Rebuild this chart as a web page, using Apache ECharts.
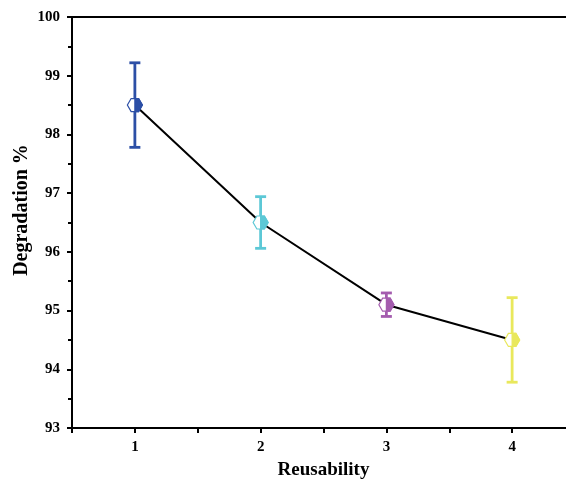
<!DOCTYPE html>
<html><head><meta charset="utf-8">
<script src="https://cdn.jsdelivr.net/npm/echarts@6/dist/echarts.min.js"></script>
<style>html,body{margin:0;padding:0;background:#fff}#c{width:566px;height:480px}</style>
</head><body><div id="c"></div>
<script>
var reuse = [1, 2, 3, 4];
var degradation = [98.5, 96.5, 95.1, 94.5];
var errors = [0.72, 0.44, 0.2, 0.72];
var pointColors = ['#2c4fa6', '#5cc8d6', '#a45cae', '#e9e85c'];
var yTicks = [93, 94, 95, 96, 97, 98, 99, 100];
var xTitle = 'Reusability';
var yTitle = 'Degradation %';

var font = '"Liberation Serif", "Times New Roman", serif';
var chart = echarts.init(document.getElementById('c'), null, {renderer: 'canvas'});
var pts = reuse.map(function (x, i) { return [x, degradation[i], errors[i], i]; });

chart.setOption({
  animation: false,
  grid: {left: 72, top: 17, height: 411, width: 503, containLabel: false, outerBoundsMode: 'none'},
  graphic: [{
    type: 'text', x: 22, y: 210, rotation: Math.PI / 2,
    style: {text: yTitle, fontFamily: font, fontWeight: 'bold', fontSize: 20, fill: '#000',
      textAlign: 'center', textVerticalAlign: 'middle'}
  }],
  xAxis: [{
    type: 'value', min: 0.5, max: 4.5, interval: 0.5,
    name: xTitle, nameLocation: 'middle', nameGap: 33, nameMoveOverlap: false,
    nameTextStyle: {fontFamily: font, fontWeight: 'bold', fontSize: 19, color: '#000'},
    axisLine: {lineStyle: {color: '#000', width: 2}},
    axisTick: {show: true, inside: false, length: 5, lineStyle: {color: '#000', width: 2}},
    axisLabel: {fontFamily: font, fontWeight: 'bold', fontSize: 15, color: '#000', margin: 12,
      formatter: function (v) { return Math.abs(v - Math.round(v)) < 1e-6 ? String(Math.round(v)) : ''; }},
    splitLine: {show: false}
  }, {
    type: 'value', position: 'top', min: 0.5, max: 4.5,
    axisLine: {show: true, lineStyle: {color: '#000', width: 2}},
    axisTick: {show: false}, axisLabel: {show: false}, splitLine: {show: false}
  }],
  yAxis: {
    type: 'value', min: yTicks[0], max: yTicks[yTicks.length - 1], interval: 1,
    axisLine: {show: true, lineStyle: {color: '#000', width: 2}},
    axisTick: {show: true, inside: false, length: 5, lineStyle: {color: '#000', width: 2}},
    minorTick: {show: true, splitNumber: 2, length: 4, lineStyle: {color: '#000', width: 2}},
    axisLabel: {fontFamily: font, fontWeight: 'bold', fontSize: 15, color: '#000', margin: 12},
    splitLine: {show: false}
  },
  series: [{
    type: 'line', data: pts.map(function (p) { return [p[0], p[1]]; }),
    symbol: 'none', lineStyle: {color: '#000', width: 2}, z: 2
  }, {
    type: 'custom', data: pts, z: 3,
    renderItem: function (params, api) {
      var x = api.value(0), y = api.value(1), e = api.value(2), idx = api.value(3);
      var c = pointColors[idx];
      var p = api.coord([x, y]);
      var top = api.coord([x, y + e]);
      var bot = api.coord([x, y - e]);
      var cw = 5.5, hw = 7.5, hh = 6.5;
      var cx = p[0], cy = p[1];
      return {
        type: 'group',
        children: [
          {type: 'line', shape: {x1: top[0], y1: top[1], x2: bot[0], y2: bot[1]}, style: {stroke: c, lineWidth: 2.8}},
          {type: 'line', shape: {x1: top[0] - cw, y1: top[1], x2: top[0] + cw, y2: top[1]}, style: {stroke: c, lineWidth: 2.8}},
          {type: 'line', shape: {x1: bot[0] - cw, y1: bot[1], x2: bot[0] + cw, y2: bot[1]}, style: {stroke: c, lineWidth: 2.8}},
          {type: 'polygon', shape: {points: [[cx - hw, cy], [cx - hw / 2, cy - hh], [cx + hw / 2, cy - hh], [cx + hw, cy], [cx + hw / 2, cy + hh], [cx - hw / 2, cy + hh]]},
            style: {fill: '#fff', stroke: c, lineWidth: 1.2}},
          {type: 'polygon', shape: {points: [[cx, cy - hh], [cx + hw / 2, cy - hh], [cx + hw, cy], [cx + hw / 2, cy + hh], [cx, cy + hh]]},
            style: {fill: c, stroke: c, lineWidth: 1.2}}
        ]
      };
    }
  }]
});
</script></body></html>
